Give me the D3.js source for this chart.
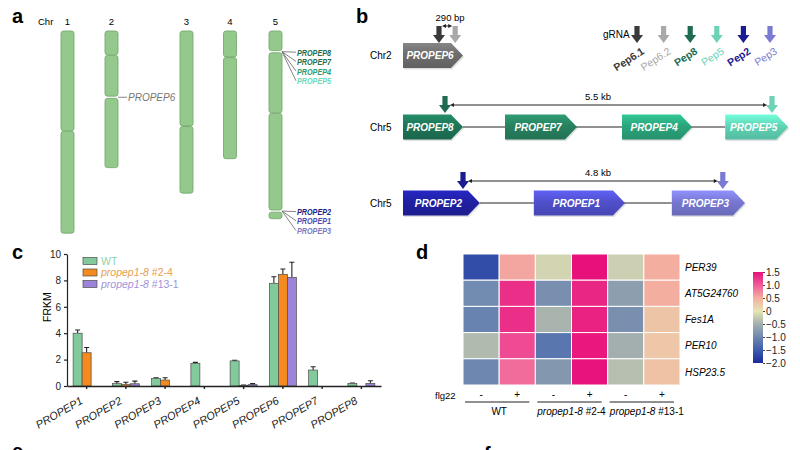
<!DOCTYPE html>
<html>
<head>
<meta charset="utf-8">
<script src="https://cdn.jsdelivr.net/npm/d3@7"></script>
<style>
  body { margin: 0; background: #fff; }
  svg { display: block; font-family: "Liberation Sans", Arial, sans-serif; }
</style>
</head>
<body>
<svg id="fig" width="800" height="450"></svg>
<script>
// ---- panel a: chromosome map (Mb) ----
const chrNames = ['1', '2', '3', '4', '5'];
const chrLength = [29.3, 19.8, 23.5, 18.5, 27.2];
const chrCentromere = [14.5, 3.5, 13.8, 3.8, 11.9];
const locusChr = ['2', '5', '5'];
const locusPos = [9.6, 3.0, 26.1];
const locusGenes = [['PROPEP6'], ['PROPEP8', 'PROPEP7', 'PROPEP4', 'PROPEP5'], ['PROPEP2', 'PROPEP1', 'PROPEP3']];

// ---- panel b: gene models (schematic units) ----
const rowLabels = ['Chr2', 'Chr5', 'Chr5'];
const rowGenes = [['PROPEP6'], ['PROPEP8', 'PROPEP7', 'PROPEP4', 'PROPEP5'], ['PROPEP2', 'PROPEP1', 'PROPEP3']];
const rowGeneStart = [[0], [0, 1.7, 3.65, 5.37], [0, 2.18, 4.48]];
const rowGeneEnd = [[1.0], [1.0, 2.9, 4.82, 6.42], [1.28, 3.7, 5.7]];
const rowGrna = [['Pep6.1', 'Pep6.2'], ['Pep8', 'Pep5'], ['Pep2', 'Pep3']];
const rowGrnaPos = [[0.6, 0.87], [0.7, 6.15], [1.0, 5.33]];
const rowSpanLabel = ['290 bp', '5.5 kb', '4.8 kb'];
const grnaNames = ['Pep6.1', 'Pep6.2', 'Pep8', 'Pep5', 'Pep2', 'Pep3'];

// ---- panel c: FRKM ----
const geneCats = ['PROPEP1', 'PROPEP2', 'PROPEP3', 'PROPEP4', 'PROPEP5', 'PROPEP6', 'PROPEP7', 'PROPEP8'];
const seriesNames = ['WT', 'propep1-8 #2-4', 'propep1-8 #13-1'];
const wtVals = [4.0, 0.18, 0.58, 1.72, 1.9, 7.78, 1.21, 0.2];
const wtErr = [0.24, 0.15, 0.05, 0.07, 0.05, 0.5, 0.25, 0.03];
const l24Vals = [2.52, 0.13, 0.45, 0, 0.05, 8.46, 0, 0];
const l24Err = [0.4, 0.15, 0.18, 0, 0.03, 0.4, 0, 0];
const l131Vals = [0, 0.17, 0, 0, 0.1, 8.23, 0, 0.2];
const l131Err = [0, 0.2, 0, 0, 0.08, 1.14, 0, 0.2];
const yTicksC = [0, 2, 4, 6, 8, 10];

// ---- panel d: heatmap (z-score) ----
const hmRows = ['PER39', 'AT5G24760', 'Fes1A', 'PER10', 'HSP23.5'];
const hmCols = ['WT-', 'WT+', '24-', '24+', '131-', '131+'];
const flgSigns = ['-', '+', '-', '+', '-', '+'];
const hmGroups = ['WT', 'propep1-8 #2-4', 'propep1-8 #13-1'];
const per39 = [-1.65, 0.55, -0.15, 1.5, -0.2, 0.5];
const at5g24760 = [-0.95, 1.3, -0.9, 1.35, -0.7, 0.5];
const fes1a = [-1.05, 1.3, -0.45, 1.38, -0.9, 0.3];
const per10 = [-0.4, 1.1, -1.2, 1.45, -0.5, 0.28];
const hsp235 = [-1.0, 0.9, -0.8, 1.48, -0.35, 0.32];
const cbTicks = [1.5, 1.0, 0.5, 0, -0.5, -1.0, -1.5, -2.0];

const geneColor = {
  PROPEP6: '#6e6e6e', PROPEP8: '#1e7556', PROPEP7: '#27815f', PROPEP4: '#2aa57c', PROPEP5: '#5fd4b5',
  PROPEP2: '#2020a2', PROPEP1: '#5050cc', PROPEP3: '#7777d2'
};
const labelColor = {
  PROPEP6: '#777', PROPEP8: '#1d6b4f', PROPEP7: '#24704f', PROPEP4: '#2a9c72', PROPEP5: '#6cdabe',
  PROPEP2: '#1c1c84', PROPEP1: '#4b4bb2', PROPEP3: '#7a7ac2'
};
const grnaColor = { 'Pep6.1': '#3a3a3a', 'Pep6.2': '#a9a9a9', Pep8: '#1e6b50', Pep5: '#6fd2b6', Pep2: '#1b1b92', Pep3: '#7b7bd2' };

const svg = d3.select('#fig');
const defs = svg.append('defs');

function panelLabel(t, x, y) {
  svg.append('text').attr('x', x).attr('y', y).attr('font-size', 20).attr('font-weight', 'bold').text(t);
}
panelLabel('a', 12, 23);
panelLabel('b', 356, 23);
panelLabel('c', 12, 259);
panelLabel('d', 416, 259);
panelLabel('e', 12, 458);
panelLabel('f', 484, 461);

// ================= panel a =================
const gA = svg.append('g');
const yMb = d3.scaleLinear().domain([0, 30]).range([31, 31 + 30 * 6.9]);
const chrX = d3.scaleOrdinal().domain(chrNames).range([67.5, 111.5, 186.5, 230, 275.5]);
const chrW = 13;

gA.append('text').attr('x', 38).attr('y', 25).attr('font-size', 9.5).text('Chr');
chrNames.forEach((c, i) => {
  gA.append('text').attr('x', chrX(c)).attr('y', 25).attr('font-size', 9.5)
    .attr('text-anchor', 'middle').text(c);
  const loci = locusPos.filter((p, k) => locusChr[k] === c);
  const cuts = [{ p: chrCentromere[i], gap: 0.6 }].concat(loci.map(p => ({ p, gap: 2.2 })))
    .sort((a, b) => a.p - b.p);
  let top = yMb(0);
  const segs = [];
  cuts.forEach(cu => {
    segs.push([top, yMb(cu.p) - cu.gap / 2]);
    top = yMb(cu.p) + cu.gap / 2;
  });
  segs.push([top, yMb(chrLength[i])]);
  gA.selectAll(null).data(segs).enter().append('rect')
    .attr('x', chrX(c) - chrW / 2).attr('width', chrW)
    .attr('y', d => d[0]).attr('height', d => d[1] - d[0])
    .attr('rx', 2.5)
    .attr('fill', '#93c98b').attr('stroke', '#77aa70').attr('stroke-width', 0.9);
});

locusGenes.forEach((genes, k) => {
  const cx = chrX(locusChr[k]) + chrW / 2;
  const ly = yMb(locusPos[k]);
  const multi = genes.length > 1;
  const lead = multi ? 14 : 9;
  genes.forEach((g, j) => {
    const ty = ly + j * 9.7 + (multi && j === 0 ? 0.5 : 0);
    gA.append('line').attr('x1', cx).attr('y1', ly).attr('x2', cx + lead).attr('y2', ty)
      .attr('stroke', '#666').attr('stroke-width', 0.8);
    const t = gA.append('text').attr('x', cx + lead + 1).attr('y', ty).attr('dy', '0.36em')
      .attr('font-style', 'italic').attr('fill', labelColor[g]).text(g);
    if (multi) {
      t.attr('font-size', 9.5).attr('font-weight', 'bold')
        .attr('textLength', 34).attr('lengthAdjust', 'spacingAndGlyphs');
    } else {
      t.attr('font-size', 10);
    }
  });
});

// ================= panel b =================
const gB = svg.append('g');
const xs = d3.scaleLinear().domain([0, 6.45]).range([403, 790]);
const rowY = d3.scaleOrdinal().domain([0, 1, 2]).range([55.5, 127, 203]);
const geneH = 25, tipW = 12;
const spanOffset = [17, 8, 8];

function grnaArrow(g, x, tipY, color) {
  const p = d3.path();
  p.moveTo(x - 2.6, tipY - 17); p.lineTo(x + 2.6, tipY - 17); p.lineTo(x + 2.6, tipY - 8);
  p.lineTo(x + 6, tipY - 8); p.lineTo(x, tipY); p.lineTo(x - 6, tipY - 8); p.lineTo(x - 2.6, tipY - 8);
  p.closePath();
  g.append('path').attr('d', p.toString()).attr('fill', color);
}
function dblArrow(g, x1, x2, y) {
  g.append('line').attr('x1', x1 + 2).attr('x2', x2 - 2).attr('y1', y).attr('y2', y)
    .attr('stroke', '#222').attr('stroke-width', 1);
  g.append('path').attr('d', `M${x1},${y}l4,-2v4z M${x2},${y}l-4,-2v4z`).attr('fill', '#222');
}

Object.keys(geneColor).forEach(name => {
  const c = d3.color(geneColor[name]);
  const gr = defs.append('linearGradient').attr('id', 'gr-' + name)
    .attr('x1', 0).attr('y1', 0).attr('x2', 0).attr('y2', 1);
  gr.append('stop').attr('offset', '0%').attr('stop-color', c.brighter(0.55));
  gr.append('stop').attr('offset', '45%').attr('stop-color', c);
  gr.append('stop').attr('offset', '100%').attr('stop-color', c.darker(0.35));
});

rowGenes.forEach((genes, r) => {
  const cy = rowY(r);
  const topY = cy - geneH / 2;
  gB.append('text').attr('x', 370).attr('y', cy).attr('dy', '0.36em')
    .attr('font-size', 10).text(rowLabels[r]);
  if (genes.length > 1) {
    gB.append('line').attr('x1', xs(rowGeneEnd[r][0])).attr('x2', xs(rowGeneStart[r][genes.length - 1]))
      .attr('y1', cy).attr('y2', cy).attr('stroke', '#222').attr('stroke-width', 1);
  }
  genes.forEach((g, j) => {
    const x0 = xs(rowGeneStart[r][j]), x1 = xs(rowGeneEnd[r][j]);
    const p = d3.path();
    p.moveTo(x0, topY); p.lineTo(x1 - tipW, topY); p.lineTo(x1, cy);
    p.lineTo(x1 - tipW, topY + geneH); p.lineTo(x0, topY + geneH); p.closePath();
    gB.append('path').attr('d', p.toString()).attr('transform', 'translate(1,1.5)')
      .attr('fill', '#000').attr('opacity', 0.12);
    gB.append('path').attr('d', p.toString()).attr('fill', `url(#gr-${g})`);
    gB.append('text').attr('x', (x0 + x1 - tipW / 2) / 2).attr('y', cy).attr('dy', '0.36em')
      .attr('text-anchor', 'middle').attr('font-size', 10).attr('font-style', 'italic')
      .attr('font-weight', 'bold').attr('fill', '#fff').text(g);
  });
  const tipY = topY - (r === 0 ? 0 : 1.5);
  rowGrna[r].forEach((gn, j) => grnaArrow(gB, xs(rowGrnaPos[r][j]), tipY, grnaColor[gn]));
  const sy = tipY - spanOffset[r];
  const a1 = xs(rowGrnaPos[r][0]) + (r === 0 ? 3 : 5), a2 = xs(rowGrnaPos[r][1]) - (r === 0 ? 3 : 5);
  dblArrow(gB, a1, a2, sy);
  gB.append('text').attr('x', r === 0 ? (a1 + a2) / 2 + 3 : 598).attr('y', sy - 5)
    .attr('text-anchor', 'middle').attr('font-size', 9.5).text(rowSpanLabel[r]);
});

// gRNA legend
const xg = d3.scalePoint().domain(grnaNames).range([637, 770]);
gB.append('text').attr('x', 603).attr('y', 38).attr('font-size', 10).text('gRNA');
grnaNames.forEach(n => {
  grnaArrow(gB, xg(n), 43, grnaColor[n]);
  const bold = ['Pep6.1', 'Pep8', 'Pep2'].includes(n);
  gB.append('text').attr('transform', `translate(${xg(n) + 8},${53}) rotate(-33)`)
    .attr('text-anchor', 'end').attr('font-size', 10.5).attr('font-weight', bold ? 'bold' : 'normal')
    .attr('fill', grnaColor[n]).text(n);
});

// ================= panel c =================
const gC = svg.append('g');
const xC = d3.scaleBand().domain(geneCats).range([67, 381]);
const yC = d3.scaleLinear().domain([0, 10]).range([386, 254]);
const barW = 9;
const xSub = d3.scaleBand().domain(seriesNames)
  .range([xC.bandwidth() / 2 - 1.5 * barW, xC.bandwidth() / 2 + 1.5 * barW]);
const seriesColor = ['#82c99b', '#f58a1e', '#9d83da'];
const seriesText = ['#8fd2aa', '#e6a04e', '#a293d8'];
const seriesVals = [wtVals, l24Vals, l131Vals];
const seriesErr = [wtErr, l24Err, l131Err];

const bars = [];
seriesNames.forEach((s, si) => geneCats.forEach((g, gi) => {
  if (seriesVals[si][gi] > 0) bars.push({ s, si, g, v: seriesVals[si][gi], e: seriesErr[si][gi] });
}));

// error bars (upper only)
gC.selectAll('.err').data(bars).enter().append('path')
  .attr('d', d => {
    const cx = xC(d.g) + xSub(d.s) + barW / 2;
    return `M${cx},${yC(d.v)}V${yC(d.v + d.e)}M${cx - 2.5},${yC(d.v + d.e)}H${cx + 2.5}`;
  })
  .attr('stroke', '#222').attr('stroke-width', 1.1).attr('fill', 'none');

gC.selectAll('.bar').data(bars).enter().append('rect')
  .attr('x', d => xC(d.g) + xSub(d.s))
  .attr('y', d => yC(d.v))
  .attr('width', barW)
  .attr('height', d => yC(0) - yC(d.v))
  .attr('fill', d => seriesColor[d.si])
  .attr('stroke', '#4d4d4d').attr('stroke-width', 0.7);

const yAxC = gC.append('g').attr('transform', 'translate(67,0)')
  .call(d3.axisLeft(yC).tickValues(yTicksC).tickSize(3).tickSizeOuter(0));
yAxC.selectAll('text').attr('font-size', 10).attr('fill', '#222').attr('font-family', 'Liberation Sans, Arial');
yAxC.selectAll('line,path').attr('stroke', '#222').attr('stroke-width', 1.2);

const xAxC = gC.append('g').attr('transform', 'translate(0,386)')
  .call(d3.axisBottom(xC).tickSize(3).tickSizeOuter(0));
xAxC.selectAll('line,path').attr('stroke', '#222').attr('stroke-width', 1.4);
xAxC.selectAll('text')
  .attr('font-size', 11).attr('font-style', 'italic').attr('fill', '#222')
  .attr('font-family', 'Liberation Sans, Arial')
  .attr('text-anchor', 'end').attr('dy', null).attr('y', 0)
  .attr('transform', 'translate(-3,17) rotate(-30)');

gC.append('text').attr('transform', 'translate(51,307) rotate(-90)')
  .attr('text-anchor', 'middle').attr('font-size', 10.5).text('FRKM');

const legY = d3.scalePoint().domain(seriesNames).range([261, 284]);
seriesNames.forEach((s, si) => {
  gC.append('rect').attr('x', 83).attr('y', legY(s) - 3.5).attr('width', 14).attr('height', 7)
    .attr('fill', seriesColor[si]).attr('stroke', '#4d4d4d').attr('stroke-width', 0.7);
  const t = gC.append('text').attr('x', 101).attr('y', legY(s)).attr('dy', '0.36em')
    .attr('font-size', 10.5).attr('fill', seriesText[si]);
  if (si === 0) t.text(s);
  else {
    const parts = s.split(' ');
    t.append('tspan').attr('font-style', 'italic').text(parts[0]);
    t.append('tspan').text(' ' + parts[1]);
  }
});

// ================= panel d =================
const gD = svg.append('g');
const hmVals = [per39, at5g24760, fes1a, per10, hsp235];
const xD = d3.scaleBand().domain(hmCols).range([463, 680]);
const yD = d3.scaleBand().domain(hmRows).range([254, 385]);
const cScale = d3.scaleLinear()
  .domain([-2, -1.5, -1, -0.5, 0, 0.5, 1, 1.5])
  .range(['#1b2a9c', '#3c5cad', '#6d87b0', '#a3afae', '#e7e5b3', '#f3ae9f', '#f05a9a', '#e8107b']);

const cells = [];
hmRows.forEach((r, ri) => hmCols.forEach((c, ci) => cells.push({ r, c, v: hmVals[ri][ci] })));
gD.selectAll('.cell').data(cells).enter().append('rect')
  .attr('x', d => xD(d.c)).attr('y', d => yD(d.r))
  .attr('width', xD.bandwidth()).attr('height', yD.bandwidth())
  .attr('fill', d => cScale(d.v)).attr('stroke', '#fff').attr('stroke-width', 1);

hmRows.forEach(r => {
  gD.append('text').attr('x', 685).attr('y', yD(r) + yD.bandwidth() / 2).attr('dy', '0.36em')
    .attr('font-size', 10).attr('font-style', 'italic').text(r);
});

gD.append('text').attr('x', 435).attr('y', 399).attr('font-size', 9.5).text('flg22');
hmCols.forEach((c, ci) => {
  gD.append('text').attr('x', xD(c) + xD.bandwidth() / 2).attr('y', 398)
    .attr('text-anchor', 'middle').attr('font-size', 10).text(flgSigns[ci]);
});
hmGroups.forEach((g, gi) => {
  const x0 = xD(hmCols[gi * 2]), x1 = xD(hmCols[gi * 2 + 1]) + xD.bandwidth();
  gD.append('line').attr('x1', x0 + 2).attr('x2', x1 - 6).attr('y1', 402).attr('y2', 402)
    .attr('stroke', '#222').attr('stroke-width', 1.2);
  const t = gD.append('text').attr('x', (x0 + x1) / 2 + (gi === 2 ? 3 : 0)).attr('y', 415)
    .attr('text-anchor', 'middle').attr('font-size', 10);
  if (gi === 0) t.text(g);
  else {
    const parts = g.split(' ');
    t.append('tspan').attr('font-style', 'italic').text(parts[0]);
    t.append('tspan').text(' ' + parts[1]);
  }
});

// colour bar
const yCb = d3.scaleLinear().domain([-2, 1.5]).range([363, 272]);
const cbGrad = defs.append('linearGradient').attr('id', 'cbgrad')
  .attr('x1', 0).attr('y1', 1).attr('x2', 0).attr('y2', 0);
cScale.domain().forEach(v => {
  cbGrad.append('stop').attr('offset', (v + 2) / 3.5).attr('stop-color', cScale(v));
});
gD.append('rect').attr('x', 753).attr('y', 272).attr('width', 10).attr('height', 91)
  .attr('fill', 'url(#cbgrad)');
const cbAx = gD.append('g').attr('transform', 'translate(763,0)')
  .call(d3.axisRight(yCb).tickValues(cbTicks).tickSize(2).tickSizeOuter(0)
    .tickFormat(d => d === 0 ? '0' : d3.format('.1f')(d)));
cbAx.select('.domain').remove();
cbAx.selectAll('line').attr('stroke', '#444');
cbAx.selectAll('text').attr('font-size', 10).attr('fill', '#222').attr('x', 3)
  .attr('font-family', 'Liberation Sans, Arial');
</script>
</body>
</html>
